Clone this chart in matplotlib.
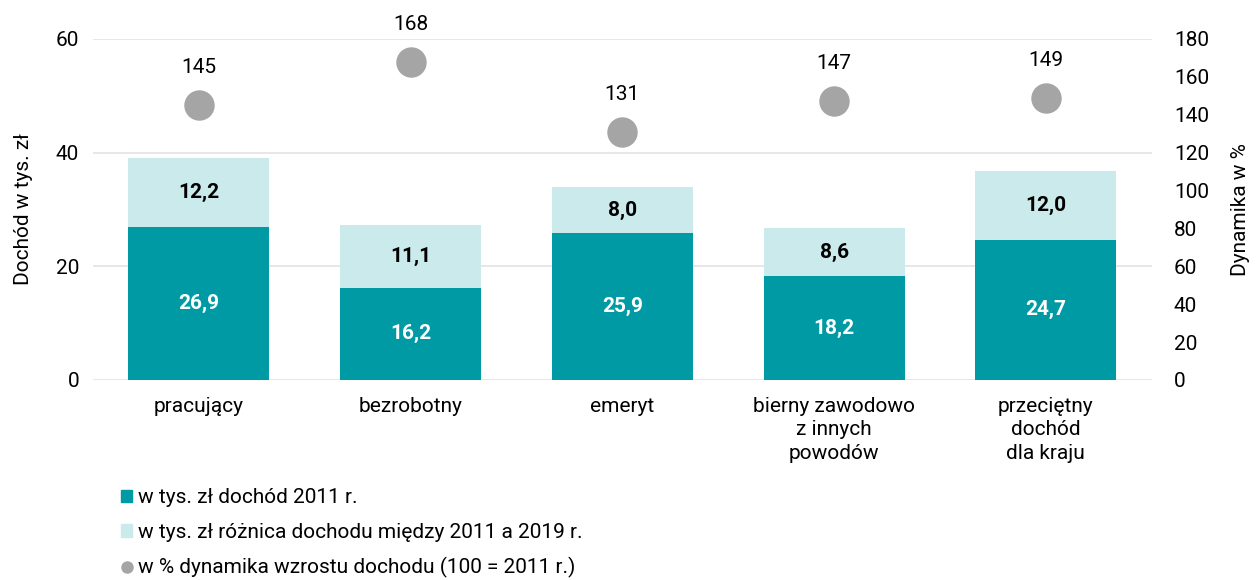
import numpy as np
import matplotlib.pyplot as plt
from matplotlib.patches import Patch
from matplotlib.lines import Line2D

plt.rcParams['font.family'] = ['Roboto', 'DejaVu Sans']

# dane
kategorie = ['pracujący', 'bezrobotny', 'emeryt', 'bierny zawodowo\nz innych\npowodów',
             'przeciętny\ndochód\ndla kraju']
dochod_2011 = [26.9, 16.2, 25.9, 18.2, 24.7]
roznica = [12.2, 11.1, 8.0, 8.6, 12.0]
dynamika = [145, 168, 131, 147, 149]

ciemny = '#009AA5'
jasny = '#CBEAEC'
szary = '#A5A5A5'
fs = 15

fig = plt.figure(figsize=(12.56, 5.8), dpi=100)
ax = fig.add_axes([0.074, 0.345, 0.843, 0.588])
x = np.arange(len(kategorie))
w = 0.665

ax.bar(x, dochod_2011, w, color=ciemny, zorder=2)
ax.bar(x, roznica, w, bottom=dochod_2011, color=jasny, zorder=2)
for i in range(len(x)):
    ax.text(x[i], dochod_2011[i] / 2, f'{dochod_2011[i]:.1f}'.replace('.', ','),
            ha='center', va='center', color='white', fontsize=fs, fontweight='bold', zorder=3)
    ax.text(x[i], dochod_2011[i] + roznica[i] / 2, f'{roznica[i]:.1f}'.replace('.', ','),
            ha='center', va='center', color='black', fontsize=fs, fontweight='bold', zorder=3)

ax.set_xlim(-0.5, len(x) - 0.5)
ax.set_ylim(0, 60)
ax.set_yticks([0, 20, 40, 60])
ax.yaxis.grid(True, color='#E3E3E3', linewidth=1.2)
ax.set_axisbelow(True)
for s in ax.spines.values():
    s.set_visible(False)
ax.tick_params(length=0, labelsize=fs, pad=10)
ax.tick_params(axis='x', pad=12)
ax.set_xticks(x)
ax.set_xticklabels(kategorie, fontsize=fs, linespacing=1.3)
ax.set_ylabel('Dochód w tys. zł', fontsize=fs, labelpad=16)

ax2 = ax.twinx()
ax2.set_ylim(0, 180)
ax2.set_yticks(np.arange(0, 181, 20))
ax2.scatter(x, dynamika, s=480, color=szary, zorder=4, linewidths=0)
for i in range(len(x)):
    ax2.annotate(str(dynamika[i]), (x[i], dynamika[i]), xytext=(0, 27),
                 textcoords='offset points', ha='center', va='center', fontsize=fs)
for s in ax2.spines.values():
    s.set_visible(False)
ax2.tick_params(length=0, labelsize=fs, pad=16)
ax2.set_ylabel('Dynamika w %', fontsize=fs, labelpad=16)

uchwyty = [
    Patch(color=ciemny, label='w tys. zł dochód 2011 r.'),
    Patch(color=jasny, label='w tys. zł różnica dochodu między 2011 a 2019 r.'),
    Line2D([], [], marker='o', linestyle='', color=szary, markersize=8,
           label='w % dynamika wzrostu dochodu (100 = 2011 r.)'),
]
fig.legend(handles=uchwyty, loc='upper left', bbox_to_anchor=(0.088, 0.176),
           frameon=False, fontsize=fs, handlelength=0.55, handleheight=0.55,
           handletextpad=0.25, labelspacing=0.74, borderpad=0)

fig.savefig('out.png', dpi=100)
